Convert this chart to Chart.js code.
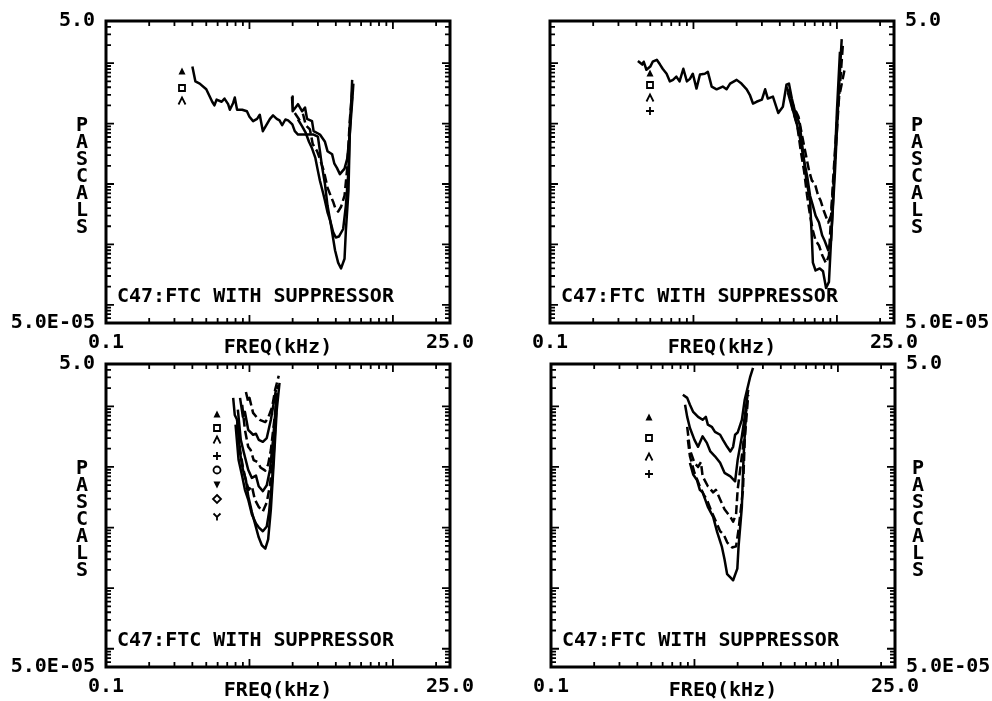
<!DOCTYPE html>
<html>
<head>
<meta charset="utf-8">
<script src="https://cdn.jsdelivr.net/npm/chart.js@4.4.0/dist/chart.umd.min.js"></script>
<style>
  html, body { margin: 0; padding: 0; background: #fff; }
  #wrap { position: relative; width: 992px; height: 701px; }
  canvas { position: absolute; left: 0; top: 0; }
</style>
</head>
<body>
<div id="wrap">
  <canvas id="c1" width="992" height="701"></canvas>
  <canvas id="c2" width="992" height="701"></canvas>
  <canvas id="c3" width="992" height="701"></canvas>
  <canvas id="c4" width="992" height="701"></canvas>
</div>
<script>
// axis ranges and labels (kHz / Pascals)
const freqRange = [0.1, 25];
const pascalRange = [5e-5, 5];
const xTickLabels = ['0.1', '25.0'];
const yTickLabels = ['5.0E-05', '5.0'];
const xTitle = 'FREQ(kHz)';
const yTitle = 'PASCALS';
const noteText = 'C47:FTC WITH SUPPRESSOR';

// panel 1 (top left) - [kHz, Pa]
const p1a = [[0.40,0.88],[0.42,0.50],[0.45,0.46],[0.50,0.37],[0.55,0.23],[0.57,0.20],[0.59,0.25],[0.64,0.23],[0.67,0.26],[0.71,0.21],[0.73,0.17],[0.77,0.22],[0.79,0.27],[0.82,0.17],[0.89,0.17],[0.96,0.16],[1.0,0.13],[1.06,0.11],[1.13,0.12],[1.18,0.14],[1.24,0.075],[1.32,0.097],[1.39,0.12],[1.46,0.137],[1.55,0.12],[1.62,0.113],[1.69,0.094],[1.78,0.117],[1.86,0.113],[1.99,0.097],[2.07,0.075],[2.18,0.066],[2.33,0.066],[2.56,0.066],[2.8,0.066],[3.0,0.061],[3.1,0.035],[3.2,0.020],[3.36,0.010],[3.5,0.0044],[3.7,0.0021],[3.95,0.0008],[4.15,0.0005],[4.35,0.0004],[4.6,0.00058],[4.7,0.0017],[4.9,0.0077],[5.0,0.061],[5.2,0.53]];
const p1b = [[1.98,0.28],[2.0,0.16],[2.18,0.21],[2.33,0.16],[2.44,0.185],[2.52,0.12],[2.73,0.11],[2.8,0.075],[3.1,0.066],[3.36,0.05],[3.5,0.035],[3.77,0.031],[3.9,0.022],[4.07,0.0185],[4.27,0.0146],[4.6,0.018],[4.8,0.026],[5.0,0.066],[5.2,0.23],[5.3,0.46]];
const p1c = [[2.07,0.15],[2.22,0.117],[2.37,0.14],[2.47,0.094],[2.64,0.08],[2.76,0.046],[2.96,0.035],[3.1,0.026],[3.26,0.018],[3.36,0.0136],[3.5,0.0087],[3.7,0.0062],[3.83,0.0051],[3.95,0.0041],[4.15,0.0035],[4.35,0.0042],[4.6,0.0064],[4.8,0.018],[5.0,0.11],[5.2,0.34]];
const p1d = [[2.18,0.117],[2.33,0.09],[2.47,0.07],[2.6,0.05],[2.73,0.039],[2.88,0.027],[3.0,0.0165],[3.1,0.0113],[3.26,0.0071],[3.36,0.0053],[3.5,0.0034],[3.65,0.0025],[3.83,0.0016],[4.0,0.0013],[4.2,0.00135],[4.5,0.0018],[4.7,0.0044],[4.9,0.0165],[5.0,0.09],[5.2,0.28]];

// panel 2 (top right)
const p2a = [[0.41,1.09],[0.44,0.95],[0.45,1.06],[0.47,0.78],[0.50,0.88],[0.52,1.06],[0.555,1.14],[0.585,0.95],[0.61,0.81],[0.65,0.67],[0.685,0.50],[0.72,0.53],[0.76,0.60],[0.80,0.50],[0.85,0.81],[0.90,0.50],[0.945,0.55],[0.99,0.67],[1.05,0.38],[1.11,0.65],[1.20,0.67],[1.26,0.72],[1.34,0.41],[1.45,0.37],[1.60,0.41],[1.70,0.37],[1.80,0.46],[2.0,0.53],[2.16,0.46],[2.35,0.37],[2.47,0.30],[2.6,0.215],[2.75,0.23],[3.0,0.25],[3.16,0.37],[3.3,0.26],[3.58,0.28],[3.9,0.15],[4.2,0.19],[4.45,0.44],[4.63,0.46],[4.85,0.26],[5.1,0.16],[5.5,0.097],[5.8,0.035],[6.1,0.0125],[6.5,0.0053],[6.7,0.00116],[6.8,0.0005],[7.1,0.00037],[7.6,0.0004],[8.0,0.00036],[8.4,0.00019],[8.8,0.00024],[9.4,0.0053],[10.0,0.16],[10.5,1.55]];
const p2b = [[4.45,0.41],[4.7,0.28],[5.0,0.19],[5.4,0.13],[5.7,0.066],[6.1,0.029],[6.4,0.0165],[6.7,0.0113],[7.0,0.0104],[7.4,0.0064],[7.7,0.0053],[8.1,0.0036],[8.7,0.0023],[9.1,0.003],[9.7,0.024],[10.3,0.23],[11.0,2.0]];
const p2c = [[4.55,0.33],[4.85,0.19],[5.2,0.11],[5.5,0.061],[5.9,0.024],[6.2,0.0136],[6.5,0.0064],[6.8,0.0044],[7.1,0.003],[7.5,0.0023],[7.9,0.0014],[8.2,0.00116],[8.7,0.0008],[9.1,0.00116],[9.7,0.0165],[10.3,0.34],[10.8,2.5]];
const p2d = [[4.6,0.37],[4.95,0.16],[5.3,0.09],[5.6,0.035],[5.9,0.0165],[6.2,0.0064],[6.5,0.003],[6.8,0.0017],[7.1,0.00116],[7.5,0.00096],[7.9,0.00066],[8.4,0.00049],[8.8,0.00066],[9.4,0.0113],[10.2,0.23],[11.3,0.78]];

// panel 3 (bottom left)
const p3a = [[0.945,1.73],[0.98,1.19],[1.0,1.38],[1.06,0.78],[1.13,0.65],[1.18,0.60],[1.29,0.55],[1.35,0.65],[1.44,0.98],[1.51,1.87],[1.6,3.2]];
const p3b = [[0.86,1.38],[0.90,0.67],[0.93,0.81],[0.98,0.41],[1.06,0.34],[1.11,0.353],[1.16,0.28],[1.24,0.26],[1.32,0.30],[1.41,0.60],[1.53,1.87]];
const p3c = [[0.89,1.06],[0.93,0.41],[0.98,0.215],[1.02,0.19],[1.07,0.13],[1.14,0.12],[1.2,0.097],[1.29,0.087],[1.35,0.11],[1.41,0.19],[1.51,0.78],[1.58,2.25]];
const p3d = [[0.83,0.88],[0.87,0.28],[0.91,0.18],[0.98,0.09],[1.04,0.066],[1.11,0.072],[1.16,0.048],[1.24,0.04],[1.32,0.05],[1.39,0.09],[1.46,0.28],[1.55,1.55]];
const p3e = [[0.82,0.60],[0.86,0.19],[0.90,0.10],[0.945,0.058],[0.99,0.042],[1.04,0.048],[1.09,0.029],[1.16,0.022],[1.24,0.0185],[1.32,0.026],[1.39,0.05],[1.46,0.16],[1.55,1.06]];
const p3f = [[0.80,0.50],[0.84,0.13],[0.89,0.07],[0.93,0.042],[0.98,0.029],[1.04,0.0165],[1.11,0.0117],[1.16,0.0101],[1.24,0.0087],[1.32,0.0104],[1.37,0.018],[1.44,0.061],[1.51,0.41]];
const p3g = [[0.77,1.38],[0.79,0.72],[0.82,0.60],[0.86,0.17],[0.90,0.09],[0.945,0.061],[0.98,0.033],[1.04,0.018],[1.11,0.0101],[1.16,0.0069],[1.22,0.0051],[1.29,0.0045],[1.35,0.0064],[1.41,0.020],[1.48,0.13],[1.55,0.88],[1.62,2.45]];

// panel 4 (bottom right)
const p4a = [[0.83,1.55],[0.89,1.38],[0.93,1.06],[0.98,0.81],[1.06,0.67],[1.14,0.60],[1.2,0.67],[1.24,0.50],[1.32,0.46],[1.39,0.38],[1.51,0.34],[1.58,0.28],[1.69,0.215],[1.78,0.18],[1.86,0.215],[1.92,0.34],[2.0,0.37],[2.14,0.60],[2.24,1.28],[2.44,3.0],[2.56,4.3]];
const p4b = [[0.86,1.06],[0.89,0.67],[0.93,0.44],[1.0,0.28],[1.06,0.215],[1.14,0.32],[1.22,0.25],[1.29,0.18],[1.39,0.15],[1.51,0.117],[1.62,0.08],[1.78,0.07],[1.92,0.058],[2.0,0.13],[2.14,0.32],[2.24,0.67],[2.37,1.87]];
const p4c = [[0.89,0.46],[0.93,0.19],[1.0,0.117],[1.06,0.10],[1.11,0.12],[1.14,0.07],[1.24,0.048],[1.35,0.038],[1.41,0.042],[1.51,0.029],[1.62,0.020],[1.78,0.015],[1.86,0.0125],[1.95,0.0165],[2.0,0.042],[2.18,0.215],[2.3,0.88]];
const p4d = [[0.90,0.28],[0.93,0.15],[1.0,0.08],[1.09,0.048],[1.16,0.035],[1.22,0.029],[1.32,0.018],[1.44,0.0113],[1.51,0.0087],[1.6,0.0077],[1.69,0.0057],[1.83,0.0047],[1.95,0.0049],[2.03,0.0093],[2.18,0.042],[2.24,0.28],[2.37,1.55]];
const p4e = [[0.93,0.117],[0.98,0.075],[1.04,0.061],[1.09,0.042],[1.14,0.038],[1.24,0.022],[1.35,0.015],[1.44,0.0084],[1.55,0.0049],[1.62,0.003],[1.69,0.0017],[1.78,0.0015],[1.86,0.00135],[1.99,0.0021],[2.03,0.0049],[2.14,0.022],[2.2,0.15],[2.3,0.98]];

// legend markers per panel
const p1Symbols = ['triangle', 'square', 'caret'];
const p2Symbols = ['triangle', 'square', 'caret', 'plus'];
const p3Symbols = ['triangle', 'square', 'caret', 'plus', 'circle', 'invtriangle', 'diamond', 'wye'];
const p4Symbols = ['triangle', 'square', 'caret', 'plus'];

const FONT = { family: '"DejaVu Sans Mono", monospace', size: 20, weight: 'bold', lineHeight: 1 };
const FONT_CSS = 'bold 20px "DejaVu Sans Mono", monospace';

// minor tick positions, 1..9 per decade inside the ranges
function logTicks(min, max) {
  const out = [];
  for (let k = Math.floor(Math.log10(min)); k <= Math.ceil(Math.log10(max)); k++) {
    for (let m = 1; m <= 9; m++) {
      const v = Number((m * Math.pow(10, k)).toPrecision(3));
      if (v > min * 1.0001 && v < max * 0.9999) out.push(v);
    }
  }
  return out;
}
const xMinor = logTicks(freqRange[0], freqRange[1]);
const yMinor = logTicks(pascalRange[0], pascalRange[1]);
const isDecade = v => Math.abs(Math.log10(v) - Math.round(Math.log10(v))) < 1e-6;

function drawSymbol(ctx, type, cx, cy) {
  const s = 3.5;
  ctx.beginPath();
  switch (type) {
    case 'triangle':
      ctx.moveTo(cx, cy - s); ctx.lineTo(cx + s, cy + s); ctx.lineTo(cx - s, cy + s); ctx.closePath(); ctx.fill(); break;
    case 'invtriangle':
      ctx.moveTo(cx, cy + s); ctx.lineTo(cx + s, cy - s); ctx.lineTo(cx - s, cy - s); ctx.closePath(); ctx.fill(); break;
    case 'square':
      ctx.rect(cx - 3, cy - 3, 6, 6); ctx.stroke(); break;
    case 'caret':
      ctx.moveTo(cx - s, cy + s); ctx.lineTo(cx, cy - s); ctx.lineTo(cx + s, cy + s); ctx.stroke(); break;
    case 'plus':
      ctx.moveTo(cx - 4, cy); ctx.lineTo(cx + 4, cy); ctx.moveTo(cx, cy - 4); ctx.lineTo(cx, cy + 4); ctx.stroke(); break;
    case 'circle':
      ctx.arc(cx, cy, 3.5, 0, Math.PI * 2); ctx.stroke(); break;
    case 'diamond':
      ctx.moveTo(cx, cy - 4); ctx.lineTo(cx + 4, cy); ctx.lineTo(cx, cy + 4); ctx.lineTo(cx - 4, cy); ctx.closePath(); ctx.stroke(); break;
    case 'wye':
      ctx.moveTo(cx - s, cy - s); ctx.lineTo(cx, cy); ctx.lineTo(cx + s, cy - s); ctx.moveTo(cx, cy); ctx.lineTo(cx, cy + s); ctx.stroke(); break;
  }
}

// frame, inward ticks, vertical axis title, note and marker list
const plotDecor = {
  id: 'plotDecor',
  afterDatasetsDraw(chart, args, o) {
    const { ctx, chartArea: a, scales: { x, y } } = chart;
    ctx.save();
    ctx.strokeStyle = '#000';
    ctx.fillStyle = '#000';
    ctx.lineWidth = 1.8;
    ctx.beginPath();
    xMinor.forEach(v => {
      const px = x.getPixelForValue(v);
      const len = isDecade(v) ? 8 : 5;
      ctx.moveTo(px, a.bottom); ctx.lineTo(px, a.bottom - len);
      ctx.moveTo(px, a.top); ctx.lineTo(px, a.top + len);
    });
    yMinor.forEach(v => {
      const py = y.getPixelForValue(v);
      const len = isDecade(v) ? 8 : 5;
      ctx.moveTo(a.left, py); ctx.lineTo(a.left + len, py);
      ctx.moveTo(a.right, py); ctx.lineTo(a.right - len, py);
    });
    ctx.stroke();
    ctx.lineWidth = 3;
    ctx.strokeRect(a.left, a.top, a.right - a.left, a.bottom - a.top);

    ctx.font = FONT_CSS;
    ctx.textAlign = 'center';
    ctx.textBaseline = 'middle';
    const tx = o.side === 'left' ? a.left - 24 : a.right + 23;
    yTitle.split('').forEach((ch, i) => ctx.fillText(ch, tx, a.top + 105 + i * 17));

    ctx.textAlign = 'left';
    ctx.fillText(noteText, a.left + 11, a.bottom - 26);

    ctx.lineWidth = 1.8;
    o.symbols.forEach((s, i) => drawSymbol(ctx, s, a.left + o.dx, a.top + o.dy[i]));
    ctx.restore();
  }
};

const panels = [
  { id: 'c1', side: 'left', pad: { left: 0, top: 19, right: 542, bottom: 343 }, xh: 35, yw: 106,
    curves: [p1a, p1b, p1c, p1d], dash: [0, 0, 1, 0], symbols: p1Symbols, dx: 76, dy: [50, 67, 80] },
  { id: 'c2', side: 'right', pad: { left: 550, top: 19, right: 0, bottom: 343 }, xh: 35, yw: 98,
    curves: [p2a, p2b, p2c, p2d], dash: [0, 1, 0, 1], symbols: p2Symbols, dx: 100, dy: [52, 64, 77, 90] },
  { id: 'c3', side: 'left', pad: { left: 0, top: 364, right: 542, bottom: 0 }, xh: 34, yw: 106,
    curves: [p3a, p3b, p3c, p3d, p3e, p3f, p3g], dash: [1, 0, 1, 0, 1, 0, 0], symbols: p3Symbols, dx: 111, dy: [50, 64, 76, 92, 106, 121, 135, 153] },
  { id: 'c4', side: 'right', pad: { left: 551, top: 364, right: 0, bottom: 0 }, xh: 34, yw: 97,
    curves: [p4a, p4b, p4c, p4d, p4e], dash: [0, 0, 1, 1, 0], symbols: p4Symbols, dx: 98, dy: [53, 74, 93, 110] }
];

panels.forEach(p => {
  new Chart(document.getElementById(p.id), {
    type: 'scatter',
    data: {
      datasets: p.curves.map((c, i) => ({
        data: c.map(([f, v]) => ({ x: f, y: v })),
        showLine: true,
        borderColor: '#000',
        borderWidth: 2.5,
        borderDash: p.dash[i] ? [9, 4] : [],
        borderJoinStyle: 'round',
        pointRadius: 0,
        tension: 0
      }))
    },
    options: {
      responsive: false,
      animation: false,
      events: [],
      layout: { padding: p.pad, autoPadding: false },
      plugins: {
        legend: { display: false },
        tooltip: { enabled: false },
        plotDecor: { side: p.side, symbols: p.symbols, dx: p.dx, dy: p.dy }
      },
      scales: {
        x: {
          type: 'logarithmic',
          position: 'bottom',
          min: freqRange[0],
          max: freqRange[1],
          grid: { display: false, drawTicks: false },
          border: { display: false },
          afterBuildTicks: s => { s.ticks = freqRange.map(v => ({ value: v })); },
          afterFit: s => { s.height = p.xh; },
          ticks: {
            autoSkip: false, maxRotation: 0, padding: 10, color: '#000', font: FONT,
            callback: (v, i) => xTickLabels[i]
          },
          title: { display: true, text: xTitle, color: '#000', font: FONT, padding: 0 }
        },
        y: {
          type: 'logarithmic',
          position: p.side,
          min: pascalRange[0],
          max: pascalRange[1],
          grid: { display: false, drawTicks: false },
          border: { display: false },
          afterBuildTicks: s => { s.ticks = pascalRange.map(v => ({ value: v })); },
          afterFit: s => { s.width = p.yw; },
          ticks: {
            autoSkip: false, padding: 11, color: '#000', font: FONT,
            callback: (v, i) => yTickLabels[i]
          }
        }
      }
    },
    plugins: [plotDecor]
  });
});
</script>
</body>
</html>
